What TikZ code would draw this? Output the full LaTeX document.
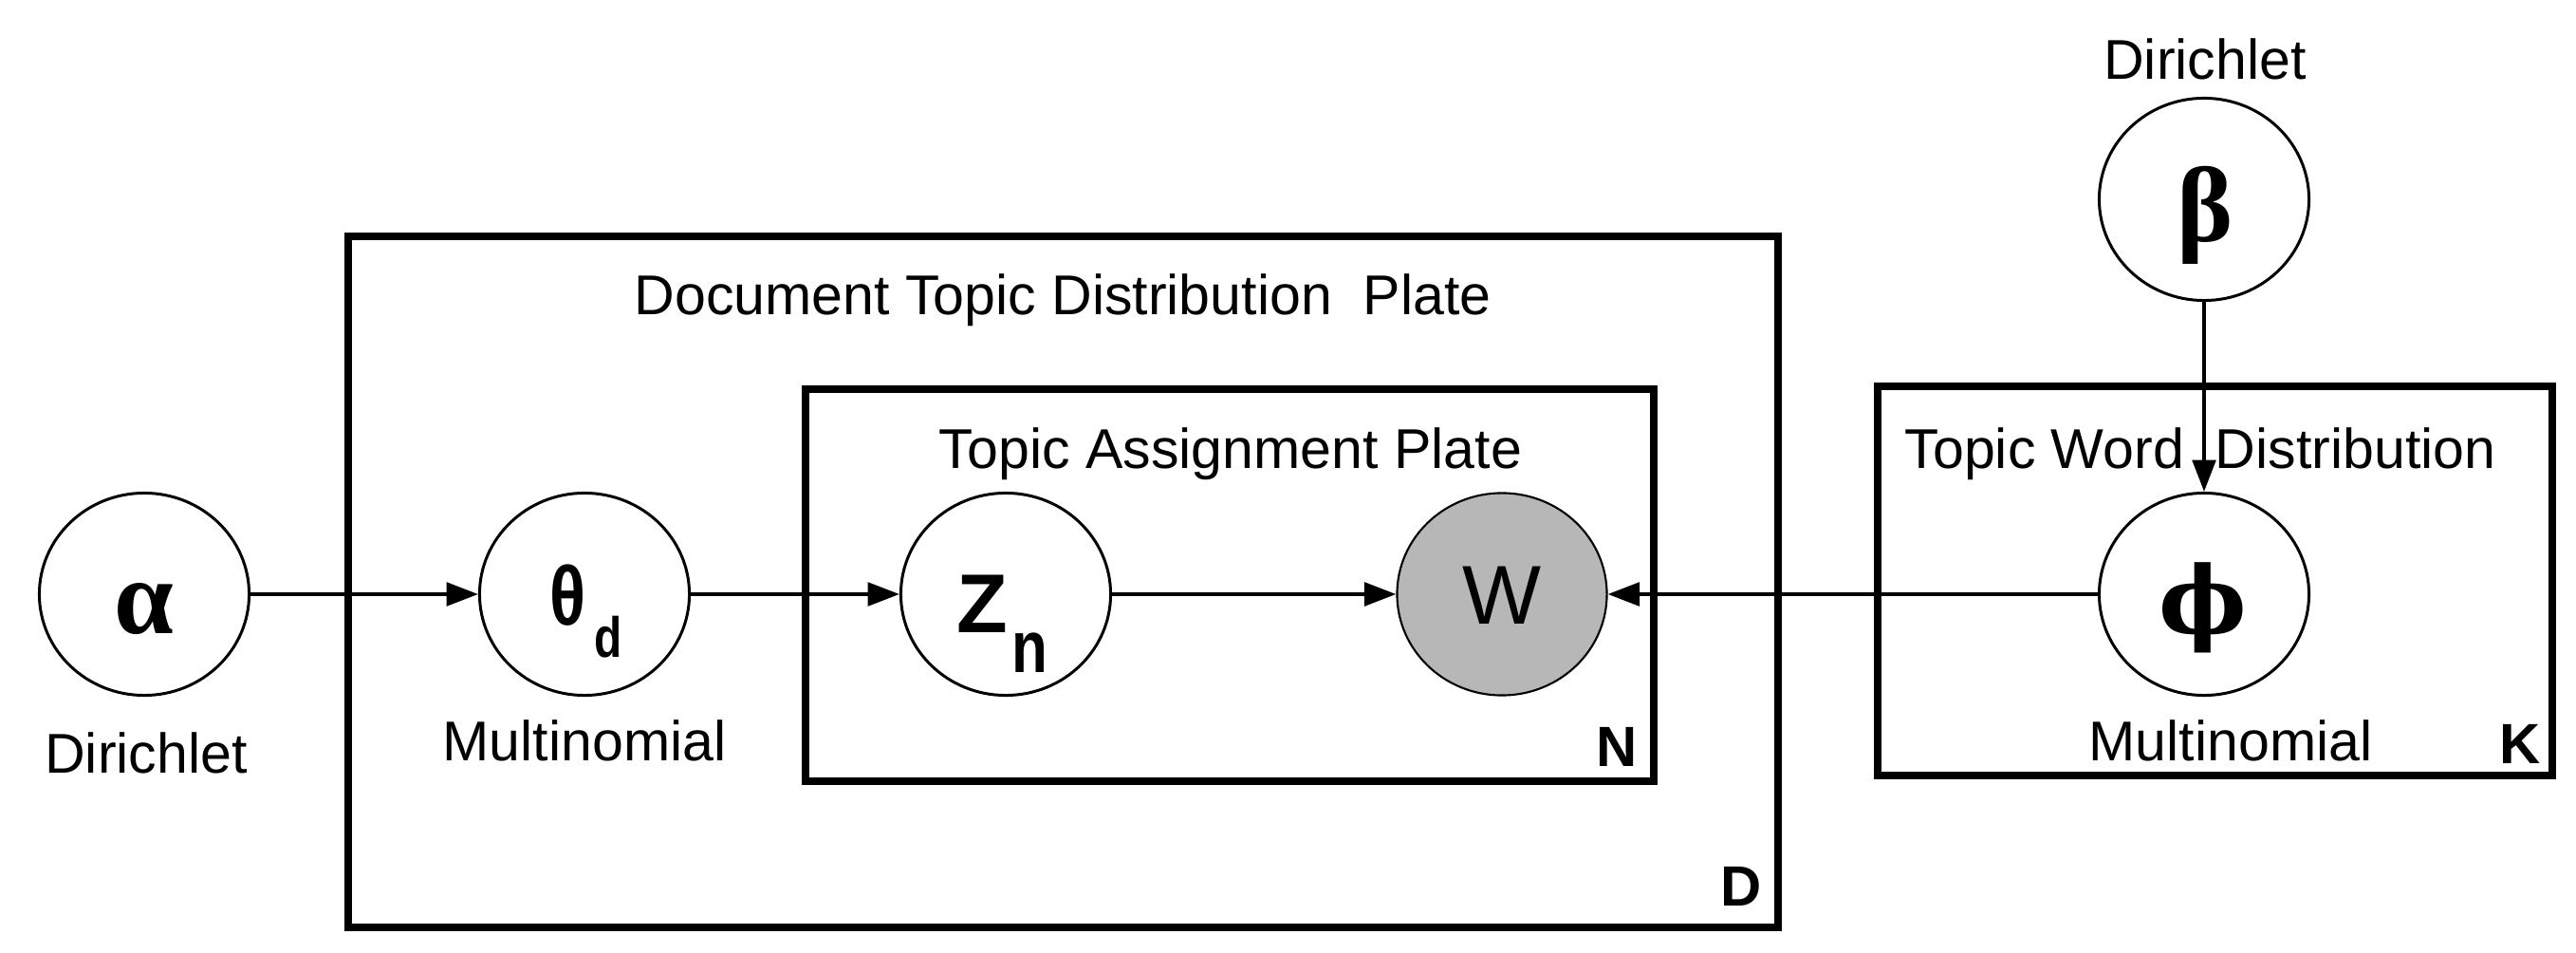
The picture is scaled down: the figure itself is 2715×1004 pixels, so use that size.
\documentclass[tikz,border=0pt]{standalone}
\usepackage{fontspec}
\setmainfont{Liberation Sans}
\newfontfamily\grkfont{Liberation Serif}
\newfontfamily\phifont{DejaVu Serif}
\usepackage{graphicx}
\usetikzlibrary{shapes.geometric,arrows.meta}
\definecolor{obsgray}{RGB}{183,183,183}
\tikzset{
  var/.style={ellipse, draw, fill=white, line width=0.85pt, minimum width=2.21cm, minimum height=2.13cm, inner sep=0pt},
  obs/.style={var, fill=obsgray, line width=0.6pt},
  plate/.style={draw, line width=2.3pt},
  lbl/.style={inner sep=0pt, font=\fontsize{16.8}{20}\selectfont},
  platelbl/.style={inner sep=0pt, font=\fontsize{17}{20}\selectfont\bfseries},
  greek/.style={inner sep=0pt, font=\fontsize{32}{36}\selectfont\grkfont\bfseries},
  symb/.style={inner sep=0pt, font=\fontsize{25}{28}\selectfont},
  edge/.style={line width=1.1pt, -{Triangle[length=9.5pt,width=7pt]}},
}
\begin{document}
\begin{tikzpicture}[x=0.01cm,y=-0.01cm]
\useasboundingbox (0,0) rectangle (2715,1004);
% plates
\draw[plate] (367,249) rectangle (1874,977);
\draw[plate] (849,410) rectangle (1743,823);
\draw[plate] (1979,407) rectangle (2690,817);
% plate titles
\node[lbl, anchor=base] (tdoc) at (1120,332) {Document Topic Distribution\ \ Plate};
\node[lbl, anchor=base] (tass) at (1297,494) {Topic Assignment Plate};
\node[lbl, anchor=base] (tword) at (2319,494) {Topic Word\ \ Distribution};
\node[platelbl, anchor=base east] (pN) at (1726,808) {N};
\node[platelbl, anchor=base east] (pD) at (1857,955) {D};
\node[platelbl, anchor=base east] (pK) at (2678,805) {K};
% variables
\node[var] (alpha) at (152,626) {};
\node[var] (theta) at (616,626) {};
\node[var] (z) at (1060,626) {};
\node[obs] (w) at (1583,626) {};
\node[var] (phi) at (2323,626) {};
\node[var] (beta) at (2323,210) {};
% symbols
\node[greek, anchor=base] (salpha) at (152,668) {α};
\node[greek, anchor=base] (sbeta) at (2324,255) {β};
\node[inner sep=0pt, font=\fontsize{28}{32}\selectfont\phifont\bfseries, anchor=base] (sphi) at (2322,668) {ϕ};
\node[symb, font=\fontsize{25}{28}\selectfont\bfseries, anchor=base] (stheta) at (598,659) {\scalebox{0.8}[1]{θ}};
\node[inner sep=0pt, font=\fontsize{17}{20}\selectfont\bfseries, anchor=base west] (sd) at (626,693) {\scalebox{0.8}[1]{d}};
\node[symb, font=\fontsize{25}{28}\selectfont\bfseries, anchor=base west] (sz) at (1008,667) {Z};
\node[inner sep=0pt, font=\fontsize{22}{26}\selectfont\bfseries, anchor=base west] (sn) at (1066,709) {\scalebox{0.8}[1]{n}};
\node[symb, anchor=base] (sw) at (1583,658) {W};
% distribution labels
\node[lbl, anchor=base] (dira) at (154,815) {Dirichlet};
\node[lbl, anchor=base] (multt) at (616,802) {Multinomial};
\node[lbl, anchor=base] (dirb) at (2324,84) {Dirichlet};
\node[lbl, anchor=base] (multp) at (2351,802) {Multinomial};
% edges
\draw[edge] (alpha) -- (theta);
\draw[edge] (theta) -- (z);
\draw[edge] (z) -- (w);
\draw[edge] (phi) -- (w);
\draw[edge] (beta) -- (phi);
\end{tikzpicture}
\end{document}
